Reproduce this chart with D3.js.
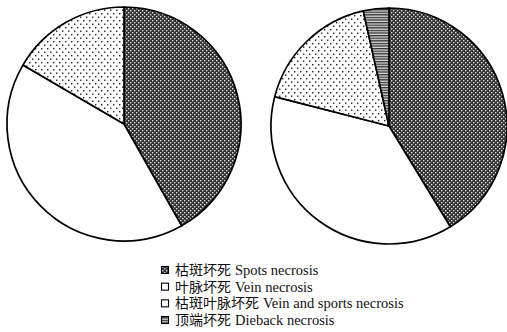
<!DOCTYPE html>
<html><head><meta charset="utf-8">
<script src="https://cdn.jsdelivr.net/npm/d3@7"></script>
<style>
html,body{margin:0;padding:0;background:#fff;}
svg{display:block;}
</style></head>
<body>
<svg id="chart" width="507" height="332"></svg>
<script>
const categories = ["Spots necrosis", "Vein necrosis", "Vein and sports necrosis", "Dieback necrosis"];
const categoriesZh = ["枯斑坏死", "叶脉坏死", "枯斑叶脉坏死", "顶端坏死"];
const pie1Values = [41.8, 41.6, 16.6, 0];
const pie2Values = [41.3, 37.7, 17.5, 3.5];

const svg = d3.select("#chart");
const defs = svg.append("defs");

// checker pattern (spots)
const pc = defs.append("pattern").attr("id","pSpots").attr("patternUnits","userSpaceOnUse").attr("width",4).attr("height",4);
pc.append("rect").attr("width",4).attr("height",4).attr("fill","#333");
pc.append("rect").attr("x",0).attr("y",0).attr("width",1.4).attr("height",1.4).attr("fill","#ddd");
pc.append("rect").attr("x",2).attr("y",2).attr("width",1.4).attr("height",1.4).attr("fill","#ddd");
// white
const pw = defs.append("pattern").attr("id","pVein").attr("patternUnits","userSpaceOnUse").attr("width",4).attr("height",4);
pw.append("rect").attr("width",4).attr("height",4).attr("fill","#fff");
// dots
const pd = defs.append("pattern").attr("id","pDots").attr("patternUnits","userSpaceOnUse").attr("width",6).attr("height",7);
pd.append("rect").attr("width",6).attr("height",7).attr("fill","#fff");
pd.append("rect").attr("x",1).attr("y",1).attr("width",1.4).attr("height",1.4).attr("fill","#222");
pd.append("rect").attr("x",4).attr("y",4.5).attr("width",1.4).attr("height",1.4).attr("fill","#222");
// horizontal stripes
const ps = defs.append("pattern").attr("id","pStripes").attr("patternUnits","userSpaceOnUse").attr("width",4).attr("height",2.6);
ps.append("rect").attr("width",4).attr("height",2.6).attr("fill","#d8d8d8");
ps.append("rect").attr("y",0).attr("width",4).attr("height",1.3).attr("fill","#333");

const fills = ["url(#pSpots)","url(#pVein)","url(#pDots)","url(#pStripes)"];

const pieGen = d3.pie().sort(null).value(d=>d);

function drawPie(values, cx, cy, r){
  const g = svg.append("g").attr("transform",`translate(${cx},${cy})`);
  const arc = d3.arc().innerRadius(0).outerRadius(r);
  const arcs = pieGen(values).map((a,i)=>({...a, i})).filter(a=>a.value>0);
  g.selectAll("path").data(arcs).join("path")
    .attr("d",arc)
    .attr("fill",d=>fills[d.i])
    .attr("stroke","#000")
    .attr("stroke-width",1.7)
    .attr("stroke-linejoin","round");
}
drawPie(pie1Values, 124, 124, 117);
drawPie(pie2Values, 389, 126, 118);

// legend
const legend = svg.append("g");
const ly = d3.scaleLinear().domain([0,3]).range([270,320]);
categories.forEach((c,i)=>{
  const y = ly(i);
  legend.append("rect").attr("x",161.5).attr("y",y-3.5).attr("width",7).attr("height",7)
    .attr("fill", i===1||i===2 ? "#fff" : fills[i]).attr("stroke","#000").attr("stroke-width",1.1);
  const zh = legend.append("text").attr("x",175).attr("y",y+5)
    .attr("font-family","Noto Sans CJK SC").attr("font-size",14).attr("fill","#111")
    .text(categoriesZh[i]);
  const w = zh.node().getComputedTextLength();
  legend.append("text").attr("x",175 + w + 4).attr("y",y+5)
    .attr("font-family","Liberation Serif, Times New Roman, serif").attr("font-size",14.5).attr("fill","#111")
    .text(c);
});
</script>
</body></html>
